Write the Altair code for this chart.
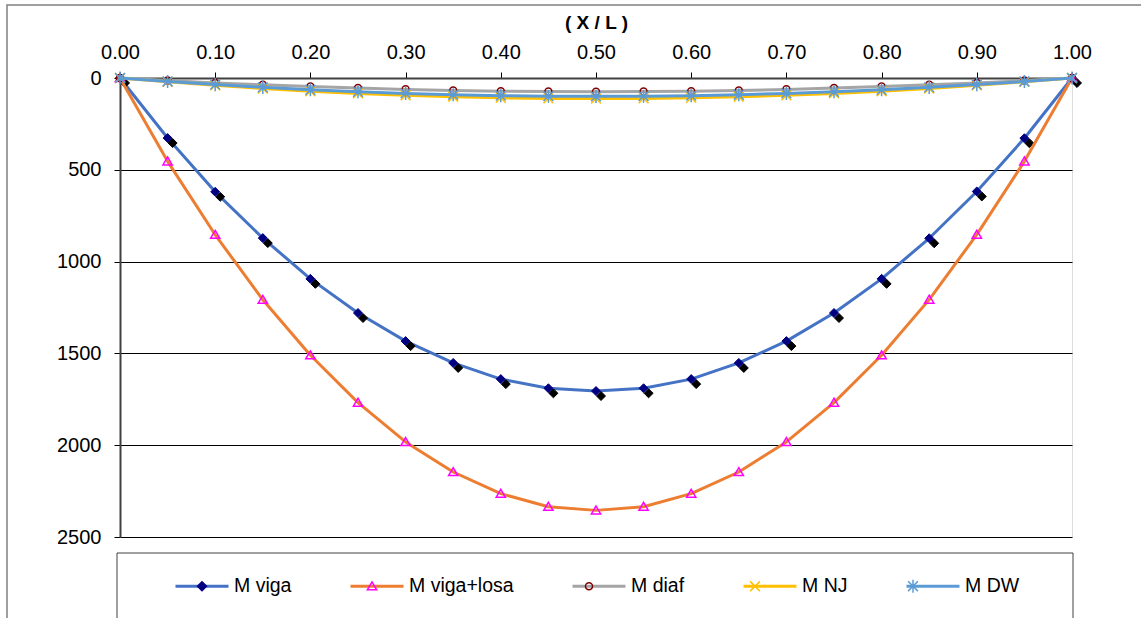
import altair as alt
import pandas as pd

# ---------------- data ----------------
x_ratio = [0.00, 0.05, 0.10, 0.15, 0.20, 0.25, 0.30, 0.35, 0.40, 0.45, 0.50,
           0.55, 0.60, 0.65, 0.70, 0.75, 0.80, 0.85, 0.90, 0.95, 1.00]
m_viga = [0, 327, 620, 872, 1094, 1280, 1433, 1552, 1640, 1690, 1705,
          1690, 1640, 1552, 1433, 1280, 1094, 873, 618, 328, 0]
m_viga_losa = [0, 454, 854, 1208, 1510, 1768, 1982, 2146, 2264, 2335, 2355,
               2335, 2264, 2146, 1982, 1768, 1510, 1207, 853, 454, 0]
m_diaf = [0, 14, 27, 37, 46, 55, 62, 68, 72, 74, 75,
          74, 72, 68, 62, 55, 46, 37, 27, 14, 0]
m_nj = [0, 21, 40, 57, 72, 84, 94, 102, 108, 111, 112,
        111, 108, 102, 94, 84, 72, 57, 40, 21, 0]
m_dw = [0, 19, 36, 51, 64, 75, 84, 91, 96, 99, 100,
        99, 96, 91, 84, 75, 64, 51, 36, 19, 0]

series_names = ["M viga", "M viga+losa", "M diaf", "M NJ", "M DW"]
series_values = [m_viga, m_viga_losa, m_diaf, m_nj, m_dw]
x_ticks = [0.0, 0.1, 0.2, 0.3, 0.4, 0.5, 0.6, 0.7, 0.8, 0.9, 1.0]
y_ticks = [0, 500, 1000, 1500, 2000, 2500]

# ---------------- styles ----------------
line_colors = ["#4472C4", "#ED7D31", "#A5A5A5", "#FFC000", "#5B9BD5"]
marker_stroke = ["#000080", "#FF00FF", "#800000", "#FFC000", "#5B9BD5"]
marker_fill = ["#000080", "transparent", "transparent", "transparent", "transparent"]
marker_paths = [
    "M0,-0.165L0.165,0L0,0.165L-0.165,0Z",
    "M0,-0.16L0.17,0.13L-0.17,0.13Z",
    "M-0.13,0A0.13,0.13,0,1,0,0.13,0A0.13,0.13,0,1,0,-0.13,0Z",
    "M-0.18,-0.18L0.18,0.18M-0.18,0.18L0.18,-0.18",
    "M-0.18,-0.18L0.18,0.18M-0.18,0.18L0.18,-0.18M0,-0.24L0,0.24",
]
LINE_SYM = 2809          # legend stroke length 53px
MARK_SYM = 2970.25       # sqrt = 54.5 (+1.5 stroke = same width as line symbol)
FONT = "Liberation Sans"

rows = []
for name, vals in zip(series_names, series_values):
    for xv, yv in zip(x_ratio, vals):
        rows.append({"x": xv, "value": yv, "series": name})
df = pd.DataFrame(rows)


def ternary(keys, vals, default):
    expr = f"'{default}'"
    for k, v in reversed(list(zip(keys, vals))):
        expr = f"datum.value === '{k}' ? '{v}' : ({expr})"
    return expr


fill_expr = ternary(series_names, marker_fill, "transparent")
stroke_expr = ternary(series_names, marker_stroke, "black")

LEG_X, LEG_Y = 54, 480
COL_PAD = 52
dom = series_names + ["_"]

line_legend = alt.Legend(
    orient="none", legendX=LEG_X, legendY=LEG_Y, direction="horizontal",
    title=None, symbolType="stroke", symbolSize=LINE_SYM, symbolStrokeWidth=3,
    labelFontSize=19.5, labelFont=FONT, labelColor="black", labelOffset=4,
    columnPadding=COL_PAD, padding=0,
)
mark_legend = alt.Legend(
    orient="none", legendX=LEG_X, legendY=LEG_Y, direction="horizontal",
    title=None, symbolSize=MARK_SYM, symbolStrokeWidth=1.5,
    labelFontSize=19.5, labelFont=FONT, labelOpacity=0, labelOffset=4,
    columnPadding=COL_PAD, padding=0, values=series_names, symbolOpacity=1,
    symbolFillColor=alt.ExprRef(expr=fill_expr),
    symbolStrokeColor=alt.ExprRef(expr=stroke_expr),
)

x_enc = alt.X(
    "x:Q", scale=alt.Scale(domain=[0, 1], nice=False),
    axis=alt.Axis(orient="top", values=x_ticks, format=".2f", title="( X / L )",
                  titleFontWeight="bold", titleFontSize=19, titleFont=FONT,
                  titlePadding=10, labelFontSize=20, labelFont=FONT, labelColor="black",
                  labelFlush=False, labelPadding=10, tickSize=6, tickColor="black",
                  domainColor="#404040", domainWidth=2, grid=False),
)
y_enc = alt.Y(
    "value:Q", scale=alt.Scale(domain=[0, 2500], reverse=True, nice=False),
    axis=alt.Axis(values=y_ticks, format="d", title=None, labelFontSize=20, labelFont=FONT,
                  labelColor="black", labelPadding=13, tickSize=6, tickColor="black",
                  domainColor="#404040", domainWidth=2, grid=True,
                  gridColor="black", gridWidth=1, labelFlush=False),
)

base = alt.Chart(df).encode(x=x_enc, y=y_enc)

layers = []
for i, name in enumerate(series_names):
    sub = base.transform_filter(alt.datum.series == name)
    layers.append(
        sub.mark_line(strokeWidth=3, strokeJoin="round", strokeCap="round").encode(
            color=alt.Color("series:N",
                            scale=alt.Scale(domain=series_names, range=line_colors),
                            legend=line_legend)
        )
    )
    if i == 0:
        # marker shadow
        layers.append(
            sub.mark_point(filled=True, color="black", stroke="black", strokeWidth=1,
                           shape=marker_paths[0], size=MARK_SYM, opacity=1,
                           xOffset=5, yOffset=5)
        )
    layers.append(
        sub.mark_point(filled=(i == 0), size=MARK_SYM, opacity=1,
                       strokeWidth=1 if i == 0 else 1.5).encode(
            shape=alt.Shape("series:N",
                            scale=alt.Scale(domain=dom, range=marker_paths + [marker_paths[0]]),
                            legend=mark_legend),
            fill=alt.Fill("series:N",
                          scale=alt.Scale(domain=dom, range=marker_fill + ["black"]),
                          legend=None),
            stroke=alt.Stroke("series:N",
                              scale=alt.Scale(domain=dom, range=marker_stroke + ["black"]),
                              legend=None),
        )
    )

one = alt.Data(values=[{"k": 1}])
legend_box = alt.Chart(one).mark_rect(fill="transparent", stroke="#404040", strokeWidth=1).encode(
    x=alt.value(-3), x2=alt.value(953), y=alt.value(475), y2=alt.value(570)
)
outer_frame = alt.Chart(one).mark_rect(fill="transparent", stroke="#808080", strokeWidth=1.5).encode(
    x=alt.value(-113), x2=alt.value(1040), y=alt.value(-73), y2=alt.value(580)
)

chart = alt.layer(outer_frame, legend_box, *layers).properties(
    width=952, height=459,
    padding={"left": 120, "top": 78, "right": 69, "bottom": 81},
    autosize=alt.AutoSizeParams(type="none"),
).configure_view(
    fill="#C0C0C0", stroke="#808080", strokeWidth=2
).configure(font=FONT)

chart.save("out.html", embed_options={"renderer": "svg", "actions": False})
